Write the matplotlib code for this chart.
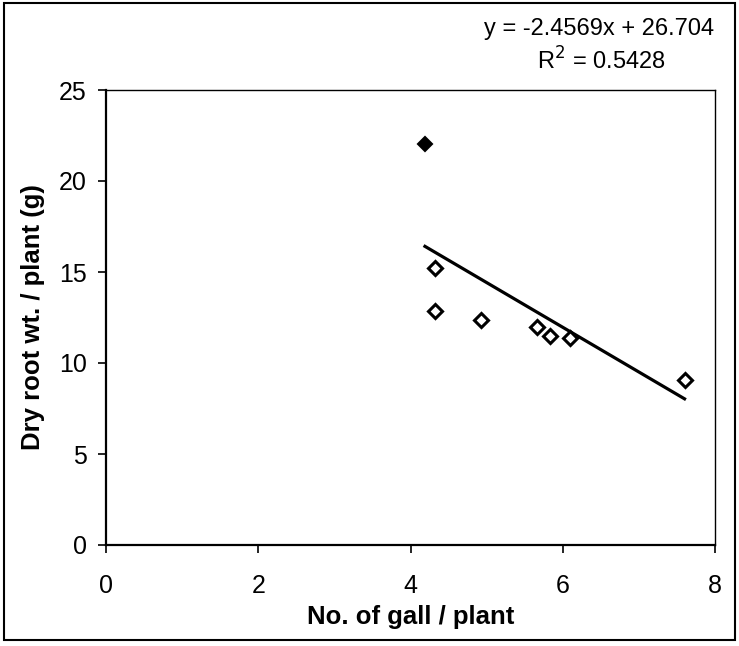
import matplotlib
matplotlib.use("Agg")
import matplotlib.pyplot as plt
from matplotlib.patches import Rectangle
import numpy as np

plt.rcParams['font.family'] = ['Liberation Sans', 'DejaVu Sans']

galls = [4.19, 4.32, 4.32, 4.93, 5.66, 5.83, 6.10, 7.60]
root_wt = [22.04, 15.24, 12.83, 12.34, 12.0, 11.46, 11.35, 9.05]
slope = -2.4569
intercept = 26.704
r2 = 0.5428
xticks = [0, 2, 4, 6, 8]
yticks = [0, 5, 10, 15, 20, 25]

fig = plt.figure(figsize=(7.39, 6.46), dpi=100)
ax = fig.add_axes([106/739, 101/646, (715-106)/739, (545-90)/646])

# outer frame
fig.patches.append(Rectangle((4/739, 6/646), 731/739, 637/646, transform=fig.transFigure,
                             fill=False, edgecolor='black', linewidth=1.5))

# trendline
xl = np.array([min(galls), max(galls)])
ax.plot(xl, slope * xl + intercept, color='black', linewidth=2.3, zorder=2)

# points: first filled, rest open
ax.plot(galls[:1], root_wt[:1], linestyle='none', marker='D', ms=7.5, mfc='black',
        mec='black', mew=1.5, zorder=3)
ax.plot(galls[1:], root_wt[1:], linestyle='none', marker='D', ms=7, mfc='white',
        mec='black', mew=2.2, zorder=3)

ax.set_xlim(0, 8)
ax.set_ylim(0, 25)
ax.set_xticks(xticks)
ax.set_yticks(yticks)
ax.tick_params(direction='out', length=6, width=1.2, labelsize=18)
ax.tick_params(axis='x', pad=15)
ax.tick_params(axis='y', pad=8)
for s in ['left', 'bottom']:
    ax.spines[s].set_linewidth(1.6)
for s in ['top', 'right']:
    ax.spines[s].set_linewidth(1.0)
    ax.spines[s].set_linestyle((0, (6, 1)))

ax.set_xlabel('No. of gall / plant', fontsize=18.5, fontweight='bold', labelpad=5)
ax.set_ylabel('Dry root wt. / plant (g)', fontsize=18.5, fontweight='bold', labelpad=10)

fig.text(599/739, 1 - 29/646, f'y = {slope}x + {intercept}', ha='center', va='center', fontsize=17)
fig.text(601/739, 1 - 61/646, f'R$^2$ = {r2}', ha='center', va='center', fontsize=17)

fig.savefig('out.png', dpi=100)
